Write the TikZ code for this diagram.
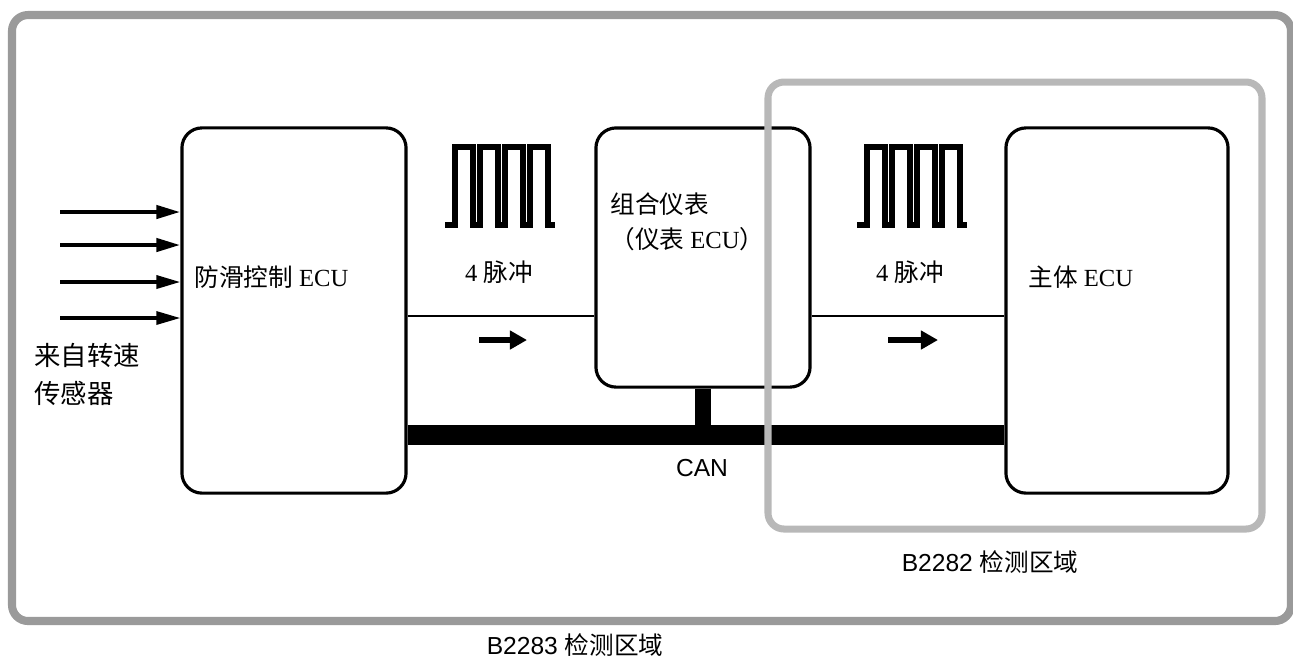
\documentclass[tikz,border=0pt]{standalone}
\usepackage{fontspec}
\setmainfont{Liberation Serif}
\setsansfont{Liberation Sans}
\newfontfamily\cjk{Noto Sans CJK SC}
\usetikzlibrary{arrows.meta}
\definecolor{outergray}{HTML}{9A9A9A}
\definecolor{innergray}{HTML}{B8B8B8}
\tikzset{
  pulses/.pic={
    \draw[line width=1.5pt,line join=miter] (0,0) -- (10,0)
      \foreach \k in {0,...,3} { -- ++(0,-78) -- ++(18,0) -- ++(0,78) -- ++(7,0) };
  }
}
\begin{document}
\begin{tikzpicture}[x=0.01cm,y=-0.01cm,>={Triangle[length=2.4mm,width=1.3mm]},
    every node/.style={font=\fontsize{7}{10}\selectfont},
    ecubox/.style={draw,line width=0.9pt,rounded corners=0.2cm,inner sep=0pt},
    sigline/.style={line width=0.7pt},
    flowarrow/.style={line width=1.5pt,-{Triangle[length=1.7mm,width=1.8mm]}}]
                \useasboundingbox (0,0) rectangle (1293,656);
                \draw[outergray,line width=2.3pt,rounded corners=0.16cm] (12,15) rectangle (1291,621);

                \node[ecubox,minimum width=2.24cm,minimum height=3.65cm] (abs) at (294,310.5) {};
                \node[ecubox,minimum width=2.14cm,minimum height=2.59cm] (meter) at (703,257.5) {};
                \node[ecubox,minimum width=2.22cm,minimum height=3.65cm] (body) at (1117,310.5) {};

                \node[anchor=west] (abslbl) at (182,277) {{\cjk 防滑控制} ECU};
                \node[anchor=west,align=left] (meterlbl) at (598,222) {{\cjk 组合仪表}\\{\cjk （仪表} ECU{\cjk ）}};
                \node[anchor=west] (bodylbl) at (1016,277) {{\cjk 主体} ECU};

                \foreach \yy/\w in {212/1.2pt,245/1.2pt,282/1pt,318/0.9pt} {
                    \coordinate (in\yy) at (60,\yy);
                    \draw[->,line width=\w] (in\yy) -- (in\yy -| abs.west);
                }
                \node[anchor=west,align=left,font=\cjk\fontsize{7.5}{10.8}\selectfont] (srclbl) at (22,374) {来自转速\\传感器};

                \pic (w1) at (445,225) {pulses};
                \pic (w2) at (857,225) {pulses};
                \node (p1lbl) at (499,272) {4 {\cjk 脉冲}};
                \node (p2lbl) at (910,272) {4 {\cjk 脉冲}};

                \coordinate (s1) at ([yshift=-0.055cm]abs.east);
                \draw[sigline] (s1) -- (s1 -| meter.west);
                \draw[sigline] (s1 -| meter.east) -- (s1 -| body.west);
                \coordinate (a1) at (479,340);
                \coordinate (a2) at (888,340);
                \draw[flowarrow] (a1) -- ++(48,0);
                \draw[flowarrow] (a2) -- ++(50,0);

                \coordinate (can) at ([yshift=-1.245cm]abs.east);
                \draw[line width=0.2cm] (can) -- (can -| body.west);
                \draw[line width=0.16cm] (meter.south) -- (meter.south |- can);
                \node (canlbl) at (702,468) {\sffamily CAN};

                \draw[innergray,line width=2pt,rounded corners=0.16cm] (768,82) rectangle (1262,529);
                \node (b2282) at (990,562) {\sffamily B2282 {\cjk 检测区域}};
                \node (b2283) at (575,645) {\sffamily B2283 {\cjk 检测区域}};
\end{tikzpicture}
\end{document}
